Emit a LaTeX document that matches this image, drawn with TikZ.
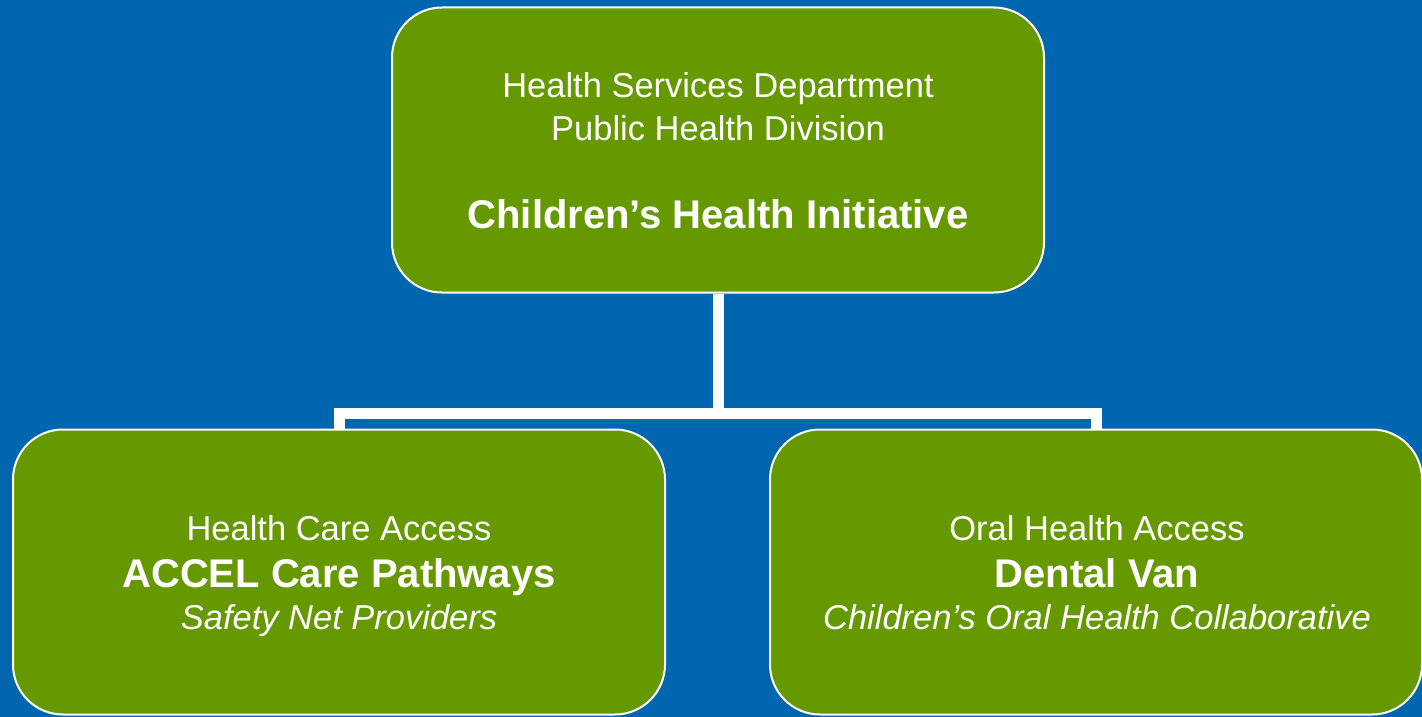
\documentclass[tikz,border=0pt]{standalone}
\usepackage{fontspec}
\setmainfont{Liberation Sans}
\definecolor{pageBlue}{RGB}{0,102,176}
\definecolor{boxGreen}{RGB}{102,153,0}

\begin{document}
\begin{tikzpicture}
[x=1pt,y=-1pt,
  boxDecorate/.style={shape=rectangle,rounded corners=50pt,draw=white,line width=2pt,
    fill=boxGreen,minimum width=652pt,minimum height=285pt,inner sep=0pt},
  lineDecorate/.style={-,draw=white,line width=11pt},
  textDecorate/.style={anchor=base,text=white,inner sep=0pt},
  plainText/.style={textDecorate,font=\fontsize{34.5}{41}\selectfont},
  boldText/.style={textDecorate,font=\fontsize{40}{48}\selectfont\bfseries},
  slantText/.style={textDecorate,font=\fontsize{34.5}{41}\selectfont\itshape}]
%% background
\useasboundingbox[fill=pageBlue] (0,0) rectangle (1422,717);
%% boxes
\foreach \nodename/\x/\y in {top/718/150, left/339/572, right/1096/572}
{
  \node (\nodename) at (\x,\y) [boxDecorate] {};
}
%% labels
\foreach \x/\y/\kind/\words [count=\i] in {
  718/98/plainText/Health Services Department,
  718/140/plainText/Public Health Division,
  718/228/boldText/Children’s Health Initiative,
  339/540/plainText/Health Care Access,
  339/587/boldText/ACCEL Care Pathways,
  339/629/slantText/Safety Net Providers,
  1097/540/plainText/Oral Health Access,
  1097/587/boldText/Dental Van,
  1097/629/slantText/Children’s Oral Health Collaborative}
{
  \node (label\i) at (\x,\y) [\kind] {\words};
}
%% connectors
\coordinate (split) at (718,413.5);
\draw[lineDecorate] (top.south) -- (split);
\draw[lineDecorate] (left.north) |- (split) -| (right.north);
\end{tikzpicture}
\end{document}
